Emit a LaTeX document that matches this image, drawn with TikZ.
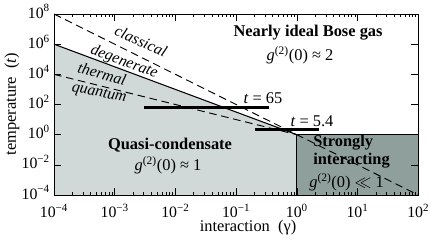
\documentclass[tikz,border=0pt]{standalone}
\usepackage{fontspec}
\setmainfont{Liberation Serif}
\definecolor{quasifill}{HTML}{D0D9D7}
\definecolor{strongfill}{HTML}{8F9F9C}
\newcommand{\gtwo}{\textit{g}\textsuperscript{(2)}(0)}

\begin{document}
\begin{tikzpicture}[x=1.821cm, y=0.4524cm,
    regime/.style={font=\fontsize{14}{15.5}\selectfont\bfseries, align=left},
    plain/.style={font=\fontsize{14}{16}\selectfont},
    crossover/.style={font=\fontsize{13.5}{16}\selectfont\itshape, inner sep=0.5pt},
    ticklabel/.style={font=\fontsize{13.5}{15}\selectfont, inner sep=0pt},
    bound/.style={dash pattern=on 6.5pt off 4pt, line width=0.8pt}]
  \useasboundingbox (-4.89,-6.98) rectangle (2.194,8.93);

  % ---- regions: quasi-condensate and strongly interacting ----
  \fill[quasifill] (-4,-4) -- (-4,6) -- (0,0) -- (0,-4) -- cycle;
  \fill[strongfill] (0,-4) rectangle (2,0);
  \draw[line width=0.7pt] (0,-4) -- (0,0) -- (2,0);

  % ---- crossovers: t = 1/gamma^2, 1/gamma, 1/gamma^{3/2} ----
  \draw[bound] (-4,8) -- (2,-4);
  \draw[bound] (-4,4) -- (0,0);
  \draw[line width=0.9pt] (-4,6) -- (0,0);

  % ---- t = 65, t = 5.4 ----
  \draw[line width=2.6pt] (-2.517,1.79) -- (-0.458,1.79);
  \draw[line width=2.6pt] (-0.689,0.345) -- (0.366,0.345);
  \node[plain] (t65) at (-0.557,2.43) {\textit{t} = 65};
  \node[plain] (t54) at (0.250,0.91) {\textit{t} = 5.4};

  % ---- frame and ticks ----
  \draw[line width=0.8pt] (-4,-4) rectangle (2,8);
  \foreach \e in {-4,...,2}{%
    \draw (\e,-4) -- ++(0,0.46);
    \draw (\e,8) -- ++(0,-0.46);
  }
  \foreach \e in {-4,...,1}{%
    \foreach \m in {2,...,9}{%
      \draw ({\e+log10(\m)},-4) -- ++(0,0.23);
      \draw ({\e+log10(\m)},8) -- ++(0,-0.23);
    }
  }
  \foreach \e in {-2,0,...,6}{%
    \draw (-4,\e) -- ++(0.115,0);
    \draw (2,\e) -- ++(-0.115,0);
  }

  % ---- tick labels ----
  \foreach \e/\s in {-4/−4, -3/−3, -2/−2, -1/−1, 0/0, 1/1, 2/2}{%
    \node[ticklabel, anchor=base] (xtick\e) at (\e,-5.47) {10\textsuperscript{\s}};
  }
  \foreach \e/\s in {-4/−4, -2/−2, 0/0, 2/2, 4/4, 6/6, 8/8}{%
    \node[ticklabel, anchor=base east] (ytick\e) at (-4.066,{\e-0.27}) {10\textsuperscript{\s}};
  }
  \node[plain] (xaxis) at (-0.804,-6.19) {interaction\ \ (γ)};
  \node[plain, rotate=90] (yaxis) at (-4.692,2.03) {temperature\ \ (\textit{t})};

  % ---- crossover labels ----
  \node[crossover, rotate=-24] (classical) at (-2.567,6.21) {classical};
  \node[crossover, rotate=-20] (degenerate) at (-2.846,4.80) {degenerate};
  \node[crossover, rotate=-15] (thermal) at (-3.209,4.03) {thermal};
  \node[crossover, rotate=-11] (quantum) at (-3.259,2.70) {quantum};

  % ---- regime labels ----
  \node[regime] (ideal) at (0.185,6.74) {Nearly ideal Bose gas};
  \node[plain] (idealg) at (0.053,5.29) {\gtwo\ ≈ 2};
  \node[regime] (quasi) at (-2.089,-0.683) {Quasi-condensate};
  \node[plain] (quasig) at (-2.122,-2.01) {\gtwo\ ≈ 1};
  \node[regime, anchor=west, inner sep=0pt] (strong) at (0.267,-1.147) {Strongly\\interacting};
  \node[plain] (strongg) at (0.82,-3.14) {\gtwo\ $\ll$ 1};
\end{tikzpicture}
\end{document}
